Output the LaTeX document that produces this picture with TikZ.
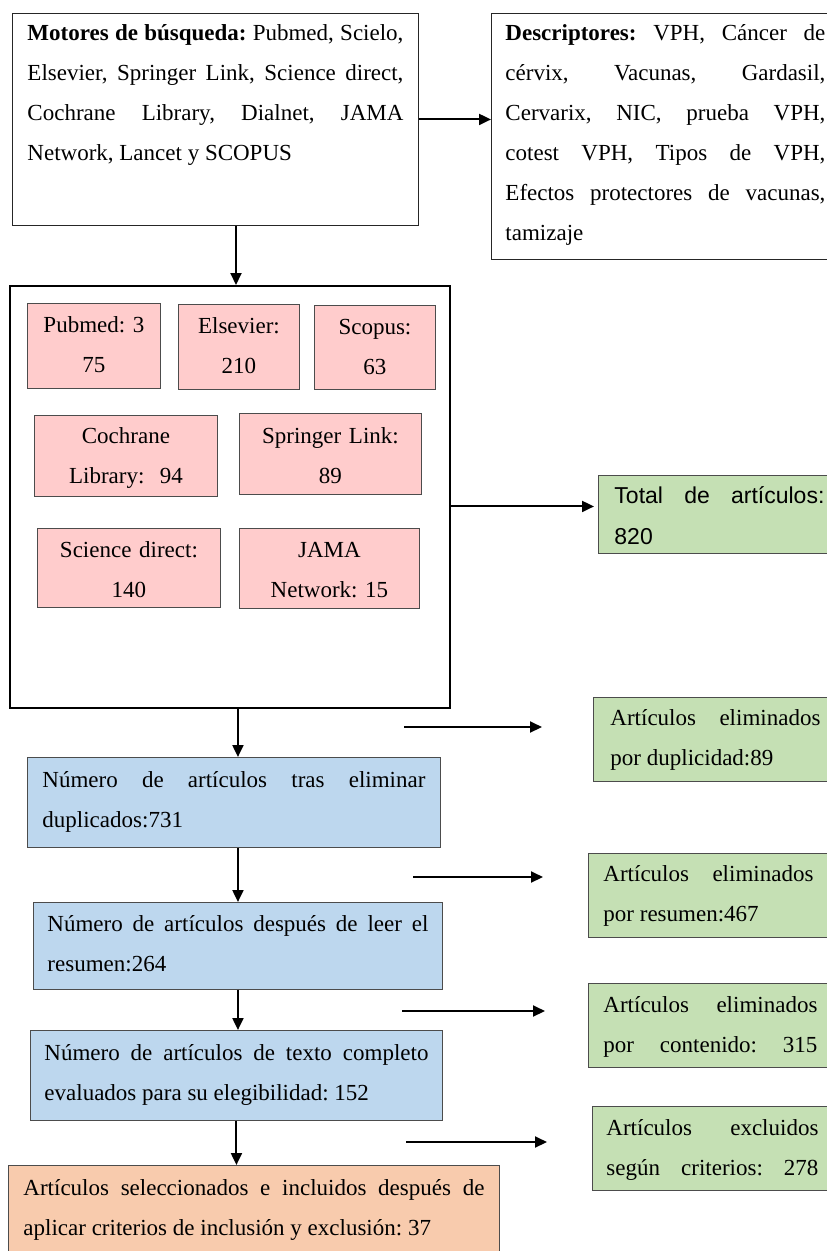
\documentclass[tikz,border=0pt]{standalone}
\usepackage{fontspec}
\setmainfont{Liberation Serif}
\setsansfont{Liberation Sans}
\usetikzlibrary{arrows.meta}
\definecolor{rosa}{HTML}{FFCCCC}
\definecolor{verde}{HTML}{C5E0B4}
\definecolor{azul}{HTML}{BDD7EE}
\definecolor{naranja}{HTML}{F8CBAD}
\hyphenpenalty=10000
\tolerance=10000
\hbadness=10000
\frenchspacing

\begin{document}
\begin{tikzpicture}[x=1pt, y=-1pt,
  every node/.style={font=\fontsize{23}{40}\selectfont},
  caja/.style={draw=black!85, line width=0.9pt, anchor=north west, inner ysep=0pt, align=justify},
  fuente/.style={caja, draw=black!70, fill=rosa, align=center, inner xsep=6pt},
  paso/.style={caja, draw=black!70, fill=azul},
  filtro/.style={caja, draw=black!70, fill=verde},
  flecha/.style={line width=2pt, ->, >={Triangle[length=12pt,width=11pt]}}]
\useasboundingbox (0,0) rectangle (827,1251);
\clip (0,0) rectangle (827,1251);

\node[caja, inner xsep=15pt, text width=376pt, text height=27pt, text depth=185pt] (mot) at (12,13)
  {\textbf{Motores de búsqueda:} Pubmed, Scielo,\linebreak Elsevier, Springer Link, Science direct,\linebreak Cochrane Library, Dialnet, JAMA\linebreak Network, Lancet y SCOPUS};
\node[caja, inner xsep=14pt, text width=320pt, text height=27pt, text depth=219pt] (desc) at (491,13)
  {\textbf{Descriptores:} VPH, Cáncer de\linebreak cérvix, Vacunas, Gardasil,\linebreak Cervarix, NIC, prueba VPH,\linebreak cotest VPH, Tipos de VPH,\linebreak Efectos protectores de vacunas,\linebreak tamizaje};

\node[draw, line width=2pt, anchor=north west, inner sep=0pt, minimum width=440pt, minimum height=422pt] (bases) at (9,285) {};
\node[fuente, text width=121pt, text height=29pt, text depth=56pt] (pub) at (27,303) {Pubmed: 3\\75};
\node[fuente, text width=109pt, text height=29pt, text depth=56pt] (els) at (178,304) {Elsevier:\\210};
\node[fuente, text width=109pt, text height=29pt, text depth=55pt] (sco) at (314,305) {Scopus:\\63};
\node[fuente, text width=171pt, text height=28pt, text depth=53pt] (coch) at (34,415) {Cochrane\\Library:\ \ 94};
\node[fuente, text width=170pt, text height=30pt, text depth=51pt] (spr) at (239,413) {Springer Link:\\89};
\node[fuente, text width=171pt, text height=29pt, text depth=50pt] (sci) at (37,528) {Science direct:\\140};
\node[fuente, text width=168pt, text height=29pt, text depth=51pt] (jama) at (239,528) {JAMA\\Network: 15};

\node[filtro, font=\sffamily\fontsize{23}{41}\selectfont, inner xsep=16pt, text width=210pt, text height=28pt, text depth=50pt] (tot) at (598,475) {Total de artículos:\linebreak 820};

\node[paso, inner xsep=15pt, text width=383pt, text height=30pt, text depth=60pt] (dup) at (27,757) {Número de artículos tras eliminar\linebreak duplicados:731};
\node[paso, inner xsep=14pt, text width=381pt, text height=29pt, text depth=58pt] (res) at (33,902) {Número de artículos después de leer el\linebreak resumen:264};
\node[paso, inner xsep=14pt, text width=384pt, text height=30pt, text depth=60pt] (eleg) at (30,1030) {Número de artículos de texto completo\linebreak evaluados para su elegibilidad: 152};
\node[caja, draw=black!70, fill=naranja, inner xsep=15pt, text width=461pt, text height=30pt, text depth=72pt] (incl) at (8,1165) {Artículos seleccionados e incluidos después de\linebreak aplicar criterios de inclusión y exclusión: 37};

\node[filtro, inner xsep=17pt, text width=210pt, text height=28pt, text depth=56pt] (ex1) at (593,697) {Artículos eliminados\linebreak por duplicidad:89};
\node[filtro, inner xsep=15pt, text width=210pt, text height=28pt, text depth=56pt] (ex2) at (588,853) {Artículos eliminados\linebreak por resumen:467};
\node[filtro, inner xsep=15pt, text width=214pt, text height=29pt, text depth=55pt] (ex3) at (588,983) {Artículos eliminados\linebreak por\hfill contenido:\hfill 315};
\node[filtro, inner xsep=14pt, text width=212pt, text height=29pt, text depth=55pt] (ex4) at (592,1106) {Artículos excluidos\linebreak según\hfill criterios:\hfill 278};

\draw[flecha] (mot.east) -- (mot.east -| desc.west);
\draw[flecha] ([xshift=6pt]bases.north |- mot.south) -- ([xshift=6pt]bases.north);
\draw[flecha, shorten >=4pt] ([yshift=8pt]tot.west -| bases.east) -- ([yshift=8pt]tot.west);
\draw[flecha] ([xshift=4pt]dup.north |- bases.south) -- ([xshift=4pt]dup.north);
\draw[flecha] (res.north |- dup.south) -- (res.north);
\draw[flecha] (res.south) -- (res.south |- eleg.north);
\draw[flecha] (eleg.south) -- (eleg.south |- incl.north);
\foreach \i/\ya/\xa/\xb in {1/727/404/542, 2/877/413/543, 3/1011/402/545, 4/1142/406/547} {
  \coordinate (s\i) at (\xa,\ya);
  \coordinate (t\i) at (\xb,\ya);
  \draw[flecha] (s\i) -- (t\i);
}
\end{tikzpicture}
\end{document}
